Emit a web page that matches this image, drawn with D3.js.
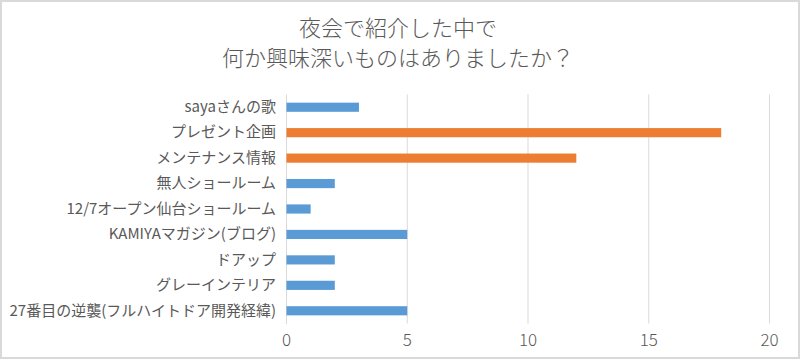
<!DOCTYPE html>
<html><head><meta charset="utf-8">
<script src="https://cdn.jsdelivr.net/npm/d3@7"></script>
<style>body{margin:0;background:#fff}</style>
</head><body>
<script>
const categories = ["sayaさんの歌","プレゼント企画","メンテナンス情報","無人ショールーム","12/7オープン仙台ショールーム","KAMIYAマガジン(ブログ)","ドアップ","グレーインテリア","27番目の逆襲(フルハイトドア開発経緯)"];
const values = [3,18,12,2,1,5,2,2,5];
const highlight = [false,true,true,false,false,false,false,false,false];
const xTicks = [0,5,10,15,20];
const titleLines = ["夜会で紹介した中で","何か興味深いものはありましたか？"];

const W=800,H=359;
const svg=d3.select("body").append("svg").attr("width",W).attr("height",H);
svg.append("rect").attr("x",1).attr("y",1).attr("width",W-2).attr("height",H-2).attr("fill","#fff").attr("stroke","#d9d9d9").attr("stroke-width",2);

const x=d3.scaleLinear().domain([0,20]).range([286,769]);
const y=d3.scaleBand().domain(categories).range([94.5,323.5]).paddingInner(0.64).paddingOuter(0.32);

const font="'Noto Sans CJK JP','Noto Sans',sans-serif";
svg.append("g").selectAll("text").data(titleLines).join("text")
  .attr("x",398).attr("y",(d,i)=>36+i*30).attr("text-anchor","middle")
  .attr("font-family",font).attr("font-weight",300).attr("font-size",22).attr("fill","#595959").text(d=>d);

// gridlines
const gx=svg.append("g").attr("transform","translate(0,323.5)")
  .call(d3.axisBottom(x).tickValues(xTicks).tickSize(-229).tickFormat(d3.format("d")).tickPadding(10));
gx.select(".domain").remove();
gx.selectAll(".tick line").attr("stroke","#d9d9d9");
gx.selectAll(".tick text").attr("font-family",font).attr("font-weight",300).attr("font-size",17).attr("fill","#595959");

const gy=svg.append("g").attr("transform","translate(286,0)")
  .call(d3.axisLeft(y).tickSize(0).tickPadding(10));
gy.select(".domain").attr("stroke","#d9d9d9");
gy.selectAll(".tick text").attr("font-family",font).attr("font-size",15).attr("fill","#595959");

svg.append("g").selectAll("rect").data(categories).join("rect")
  .attr("x",x(0)+0.5).attr("y",d=>y(d)).attr("height",y.bandwidth())
  .attr("width",(d,i)=>x(values[i])-x(0))
  .attr("fill",(d,i)=>highlight[i]?"#ed7d31":"#5b9bd5");
</script>
</body></html>
